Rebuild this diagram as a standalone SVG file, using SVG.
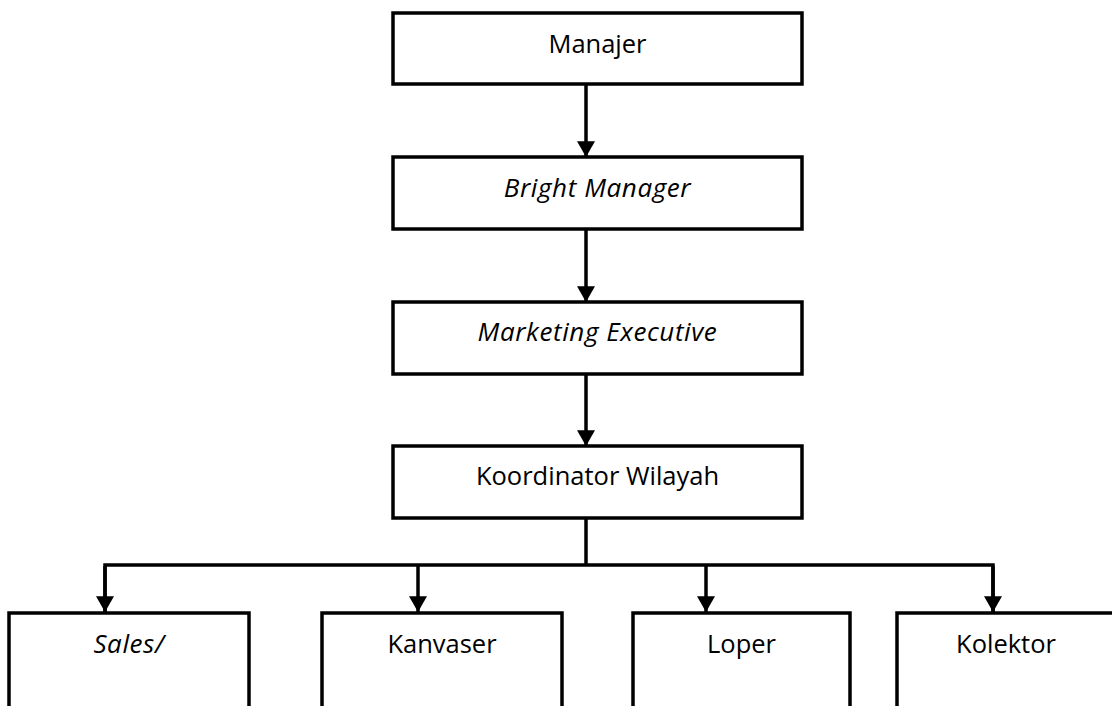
<svg xmlns="http://www.w3.org/2000/svg" width="1112" height="706" viewBox="0 0 1112 706">
<style>
.box{fill:#fff;stroke:#000;stroke-width:3.5}
.lbl{font-family:"Open Sans","Liberation Sans",sans-serif;font-size:25.5px;fill:#000;text-anchor:middle}
.it{font-style:italic;font-size:26px;letter-spacing:0.6px}
.ln{fill:none;stroke:#000;stroke-width:3.5}
</style>
<defs>
<marker id="ah" markerUnits="userSpaceOnUse" markerWidth="18" markerHeight="16" refX="8" refY="14" orient="0" viewBox="0 0 16 14">
<polygon points="0,0 16,0 8,14" fill="#000"/>
</marker>
</defs>
<rect width="1112" height="706" fill="#fff"/>
<g id="connectors">
<line class="ln" x1="586" y1="84" x2="586" y2="157" marker-end="url(#ah)"/>
<line class="ln" x1="586" y1="229" x2="586" y2="302" marker-end="url(#ah)"/>
<line class="ln" x1="586" y1="374" x2="586" y2="446" marker-end="url(#ah)"/>
<line class="ln" x1="586" y1="518" x2="586" y2="565"/>
<polyline class="ln" points="105,613 105,565 993,565 993,613"/>
<line class="ln" x1="105" y1="566" x2="105" y2="612" marker-end="url(#ah)"/>
<line class="ln" x1="418" y1="565" x2="418" y2="612" marker-end="url(#ah)"/>
<line class="ln" x1="706" y1="565" x2="706" y2="612" marker-end="url(#ah)"/>
<line class="ln" x1="993" y1="566" x2="993" y2="612" marker-end="url(#ah)"/>
</g>
<g id="manajer"><rect class="box" x="393" y="13" width="409" height="71"/><text class="lbl" x="597.5" y="53">Manajer</text></g>
<g id="bright-manager"><rect class="box" x="393" y="157" width="409" height="72"/><text class="lbl it" x="597.5" y="197">Bright Manager</text></g>
<g id="marketing-executive"><rect class="box" x="393" y="302" width="409" height="72"/><text class="lbl it" x="597.5" y="341">Marketing Executive</text></g>
<g id="koordinator-wilayah"><rect class="box" x="393" y="446" width="409" height="72"/><text class="lbl" x="597.5" y="485">Koordinator Wilayah</text></g>
<g id="sales"><rect class="box" x="9" y="613" width="240" height="110"/><text class="lbl it" x="129" y="653">Sales/</text></g>
<g id="kanvaser"><rect class="box" x="322" y="613" width="240" height="110"/><text class="lbl" x="442" y="653">Kanvaser</text></g>
<g id="loper"><rect class="box" x="633" y="613" width="217" height="110"/><text class="lbl" x="741.5" y="653">Loper</text></g>
<g id="kolektor"><rect class="box" x="897" y="613" width="220" height="110"/><text class="lbl" x="1006" y="653">Kolektor</text></g>
</svg>
